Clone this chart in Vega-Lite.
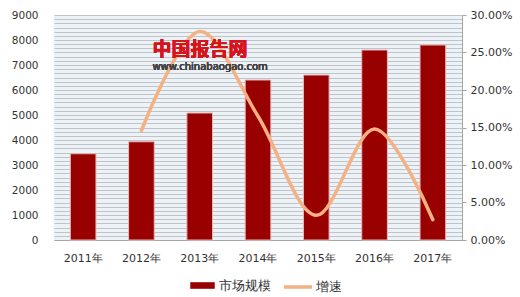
{
  "$schema": "https://vega.github.io/schema/vega-lite/v6.json",
  "width": 408,
  "height": 225,
  "autosize": {"type": "none"},
  "padding": {"left": 54, "top": 15, "right": 58, "bottom": 57},
  "background": "white",
  "config": {
    "font": "DejaVu Sans",
    "view": {"fill": "#edf2f7", "stroke": null},
    "axis": {"labelFont": "DejaVu Sans", "labelColor": "#333333", "labelFontSize": 10.5}
  },
  "data": {
    "values": [
      {"year": "2011年", "size": 3450, "growth": null},
      {"year": "2012年", "size": 3930, "growth": 0.146},
      {"year": "2013年", "size": 5080, "growth": 0.278},
      {"year": "2014年", "size": 6400, "growth": 0.165},
      {"year": "2015年", "size": 6600, "growth": 0.033},
      {"year": "2016年", "size": 7600, "growth": 0.148},
      {"year": "2017年", "size": 7800, "growth": 0.027}
    ]
  },
  "layer": [
    {
      "mark": {"type": "bar", "stroke": "#e9b8b8", "strokeWidth": 1},
      "encoding": {
        "x": {
          "field": "year", "type": "nominal", "sort": null,
          "scale": {"paddingInner": 0.56, "paddingOuter": 0.28},
          "axis": {"title": null, "labelAngle": 0, "ticks": false, "domainColor": "#a6a6a6", "labelPadding": 12, "labelFontSize": 11}
        },
        "y": {
          "field": "size", "type": "quantitative",
          "scale": {"domain": [0, 9000], "nice": false},
          "axis": {
            "title": null, "domain": false, "ticks": false, "labelPadding": 16,
            "grid": true, "gridColor": "#bfc4cb", "gridWidth": 1,
            "values": [0,166.667,333.333,500,666.667,833.333,1000,1166.667,1333.333,1500,1666.667,1833.333,2000,2166.667,2333.333,2500,2666.667,2833.333,3000,3166.667,3333.333,3500,3666.667,3833.333,4000,4166.667,4333.333,4500,4666.667,4833.333,5000,5166.667,5333.333,5500,5666.667,5833.333,6000,6166.667,6333.333,6500,6666.667,6833.333,7000,7166.667,7333.333,7500,7666.667,7833.333,8000,8166.667,8333.333,8500,8666.667,8833.333,9000],
            "labelExpr": "abs(datum.value - round(datum.value/1000)*1000) < 1 ? format(round(datum.value), 'd') : ''"
          }
        },
        "fill": {
          "datum": "市场规模",
          "scale": {"domain": ["市场规模"], "range": ["#990000"]},
          "legend": {
            "title": null, "orient": "none", "legendX": 136, "legendY": 258, "padding": 0,
            "labelFontSize": 12.5, "labelColor": "#333333", "labelFont": "DejaVu Sans",
            "symbolType": "M-1,-0.27H1V0.27H-1Z", "symbolSize": 600, "symbolStrokeWidth": 0, "labelOffset": 4
          }
        }
      }
    },
    {
      "transform": [{"filter": "datum.growth != null"}],
      "mark": {"type": "line", "interpolate": "catmull-rom", "strokeWidth": 3.5, "strokeCap": "round"},
      "encoding": {
        "x": {"field": "year", "type": "nominal", "sort": null},
        "y": {
          "field": "growth", "type": "quantitative",
          "scale": {"domain": [0, 0.3], "nice": false},
          "axis": {
            "title": null, "orient": "right", "format": ".2%", "grid": false,
            "values": [0, 0.05, 0.1, 0.15, 0.2, 0.25, 0.3], "labelFontSize": 11,
            "domainColor": "#a6a6a6", "tickColor": "#a6a6a6", "tickSize": 4, "labelPadding": 4
          }
        },
        "stroke": {
          "datum": "增速",
          "scale": {"domain": ["增速"], "range": ["#f4b183"]},
          "legend": {
            "title": null, "orient": "none", "legendX": 228, "legendY": 256, "padding": 0,
            "labelFontSize": 12.5, "labelColor": "#333333", "labelFont": "DejaVu Sans",
            "symbolType": "stroke", "symbolSize": 784, "symbolStrokeWidth": 3.5, "labelOffset": 2
          }
        }
      }
    },
    {
      "mark": {"type": "text", "text": "中国报告网", "color": "#d7141a", "fontSize": 19, "fontWeight": "bold", "font": "Noto Sans CJK SC", "align": "left", "baseline": "middle", "dx": 11},
      "encoding": {
        "x": {"datum": "2012年", "type": "nominal"},
        "y": {"datum": 7600, "type": "quantitative", "scale": {"domain": [0, 9000], "nice": false}, "axis": null}
      }
    },
    {
      "mark": {"type": "text", "text": "www.chinabaogao.com", "color": "#444444", "fontSize": 10, "font": "DejaVu Sans", "align": "left", "baseline": "middle", "dx": 11},
      "encoding": {
        "x": {"datum": "2012年", "type": "nominal"},
        "y": {"datum": 6920, "type": "quantitative", "scale": {"domain": [0, 9000], "nice": false}, "axis": null}
      }
    }
  ],
  "resolve": {"scale": {"y": "independent"}}
}
